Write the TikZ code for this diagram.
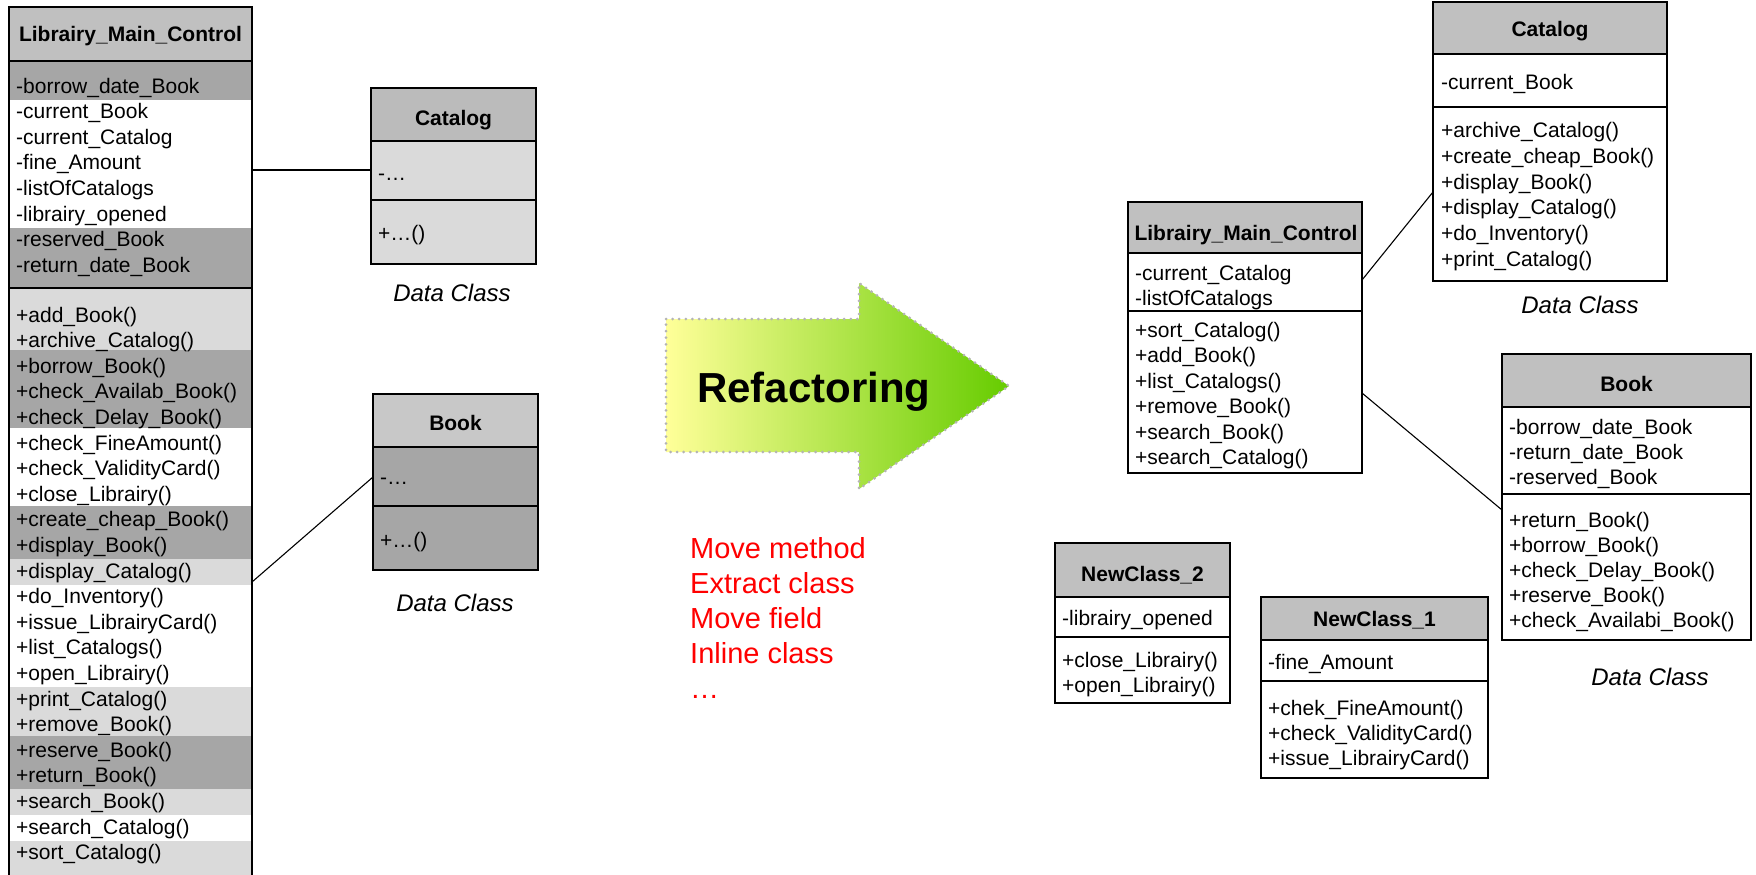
\documentclass[tikz,border=0pt]{standalone}
\usepackage{fontspec}
\setmainfont{Liberation Sans}
\usetikzlibrary{calc}

\definecolor{hdrgray}{HTML}{C0C0C0}
\definecolor{catgray}{HTML}{BBBBBB}
\definecolor{bookgray}{HTML}{C8C8C8}
\definecolor{darkrow}{HTML}{A6A6A6}
\definecolor{lightrow}{HTML}{DADADA}
\definecolor{arrowstart}{HTML}{FFFF99}
\definecolor{arrowend}{HTML}{66CC00}
\definecolor{dotgray}{HTML}{B4B4B4}
\definecolor{listred}{HTML}{FF0000}

% one text row per list item, baselines spaced by #4
\newcommand\cellrows[5]{%
  \foreach \rowtext [count=\k from 0] in {#5}
    \node[txt] (#1\k) at (#2,{#3+\k*#4}) {\rowtext};%
}

\begin{document}
\begin{tikzpicture}[x=1pt,y=-1pt,
  txt/.style={anchor=base west,inner sep=0pt,font=\fontsize{21}{25}\selectfont},
  ttl/.style={anchor=base,inner sep=0pt,font=\fontsize{21}{25}\selectfont\bfseries},
  dataclass/.style={inner sep=0pt,font=\fontsize{24}{28}\selectfont\itshape},
  frame/.style={draw,line width=2pt,rectangle,inner sep=0pt,outer sep=0pt,anchor=north west},
  sepline/.style={line width=2pt},
  link/.style={line width=1.1pt},
  redtxt/.style={anchor=base west,inner sep=0pt,text=listred,font=\fontsize{29}{35}\selectfont}]

\useasboundingbox (0,0) rectangle (1756,875);

% ---------------- original class (left) ----------------
\fill[hdrgray] (9,7) rectangle (252,61);
\fill[darkrow] (9,61) rectangle (252,100);
\fill[white] (9,100) rectangle (252,228);
\fill[darkrow] (9,228) rectangle (252,288);
\fill[lightrow] (9,288) rectangle (252,350);
\fill[darkrow] (9,350) rectangle (252,428);
\fill[white] (9,428) rectangle (252,506);
\fill[darkrow] (9,506) rectangle (252,559);
\fill[lightrow] (9,559) rectangle (252,585);
\fill[white] (9,585) rectangle (252,687);
\fill[lightrow] (9,687) rectangle (252,736);
\fill[darkrow] (9,736) rectangle (252,789);
\fill[lightrow] (9,789) rectangle (252,815);
\fill[white] (9,815) rectangle (252,841);
\fill[lightrow] (9,841) rectangle (252,890);
\node[ttl] (lmcLt) at (130.5,42) {Librairy\_Main\_Control};
\cellrows{lmcLa}{16}{93}{25.6}{-borrow\_date\_Book,-current\_Book,-current\_Catalog,-fine\_Amount,-listOfCatalogs,-librairy\_opened,-reserved\_Book,-return\_date\_Book}
\cellrows{lmcLm}{16}{322}{25.6}{+add\_Book(),+archive\_Catalog(),+borrow\_Book(),+check\_Availab\_Book(),+check\_Delay\_Book(),+check\_FineAmount(),+check\_ValidityCard(),+close\_Librairy(),+create\_cheap\_Book(),+display\_Book(),+display\_Catalog(),+do\_Inventory(),+issue\_LibrairyCard(),+list\_Catalogs(),+open\_Librairy(),+print\_Catalog(),+remove\_Book(),+reserve\_Book(),+return\_Book(),+search\_Book(),+search\_Catalog(),+sort\_Catalog()}
\draw[sepline] (9,61) -- (252,61);
\draw[sepline] (9,288) -- (252,288);
\node[frame,minimum width=243pt,minimum height=883pt] (lmcL) at (9,7) {};

% Catalog (left)
\fill[catgray] (371,88) rectangle (536,141);
\fill[lightrow] (371,141) rectangle (536,264);
\node[ttl] (catLt) at (453.5,125) {Catalog};
\node[txt] (catLa) at (378,180) {-…};
\node[txt] (catLm) at (378,240) {+…()};
\draw[sepline] (371,141) -- (536,141);
\draw[sepline] (371,200) -- (536,200);
\node[frame,minimum width=165pt,minimum height=176pt] (catL) at (371,88) {};
\node[dataclass] (catLdc) at (452,293) {Data Class};

% Book (left)
\fill[bookgray] (373,394) rectangle (538,447);
\fill[darkrow] (373,447) rectangle (538,570);
\node[ttl] (bookLt) at (455.5,430) {Book};
\node[txt] (bookLa) at (380,484) {-…};
\node[txt] (bookLm) at (380,547) {+…()};
\draw[sepline] (373,447) -- (538,447);
\draw[sepline] (373,506) -- (538,506);
\node[frame,minimum width=165pt,minimum height=176pt] (bookL) at (373,394) {};
\node[dataclass] (bookLdc) at (455,603) {Data Class};

\draw[link] (lmcL.east |- 0,170) -- (catL.west |- 0,170);
\draw[link] (lmcL.east |- 0,582) -- (bookL.west |- 0,477);

% ---------------- refactoring arrow ----------------
\shade[left color=arrowstart,right color=arrowend]
  (666,319) -- (859,319) -- (859,283) -- (1009,386) -- (859,489) -- (859,452) -- (666,452) -- cycle;
\draw[dotgray,line width=3pt,line cap=round,dash pattern=on 0pt off 6.6pt]
  (666,319) -- (859,319) -- (859,283) -- (1009,386) -- (859,489) -- (859,452) -- (666,452) -- cycle;
\node[anchor=base west,inner sep=0pt,font=\fontsize{42}{48}\selectfont\bfseries] (refac) at (697,402) {Refactoring};

\node[redtxt] (r1) at (690,558) {Move method};
\node[redtxt] (r2) at (690,593) {Extract class};
\node[redtxt] (r3) at (690,628) {Move field};
\node[redtxt] (r4) at (690,663) {Inline class};
\node[redtxt] (r5) at (690,698) {…};

% ---------------- refactored classes (right) ----------------
% Librairy_Main_Control
\fill[hdrgray] (1128,202) rectangle (1362,253);
\fill[white] (1128,253) rectangle (1362,473);
\node[ttl] (lmcRt) at (1246,240) {Librairy\_Main\_Control};
\cellrows{lmcRa}{1135}{280.5}{25}{-current\_Catalog,-listOfCatalogs}
\cellrows{lmcRm}{1135}{337.5}{25.4}{+sort\_Catalog(),+add\_Book(),+list\_Catalogs(),+remove\_Book(),+search\_Book(),+search\_Catalog()}
\draw[sepline] (1128,253) -- (1362,253);
\draw[sepline] (1128,311) -- (1362,311);
\node[frame,minimum width=234pt,minimum height=271pt] (lmcR) at (1128,202) {};

% Catalog
\fill[hdrgray] (1433,2) rectangle (1667,54);
\fill[white] (1433,54) rectangle (1667,281);
\node[ttl] (catRt) at (1550,37) {Catalog};
\cellrows{catRa}{1441}{89.5}{25}{-current\_Book}
\cellrows{catRm}{1441}{137.5}{25.8}{+archive\_Catalog(),+create\_cheap\_Book(),+display\_Book(),+display\_Catalog(),+do\_Inventory(),+print\_Catalog()}
\draw[sepline] (1433,54) -- (1667,54);
\draw[sepline] (1433,107) -- (1667,107);
\node[frame,minimum width=234pt,minimum height=279pt] (catR) at (1433,2) {};
\node[dataclass] (catRdc) at (1580,305) {Data Class};

% Book
\fill[hdrgray] (1502,354) rectangle (1751,407);
\fill[white] (1502,407) rectangle (1751,640);
\node[ttl] (bookRt) at (1626.5,391) {Book};
\cellrows{bookRa}{1509}{434.5}{25}{-borrow\_date\_Book,-return\_date\_Book,-reserved\_Book}
\cellrows{bookRm}{1509}{527.5}{25}{+return\_Book(),+borrow\_Book(),+check\_Delay\_Book(),+reserve\_Book(),+check\_Availabi\_Book()}
\draw[sepline] (1502,407) -- (1751,407);
\draw[sepline] (1502,494) -- (1751,494);
\node[frame,minimum width=249pt,minimum height=286pt] (bookR) at (1502,354) {};
\node[dataclass] (bookRdc) at (1650,677) {Data Class};

% NewClass_2
\fill[hdrgray] (1055,543) rectangle (1230,597);
\fill[white] (1055,597) rectangle (1230,703);
\node[ttl] (nc2t) at (1142.5,581) {NewClass\_2};
\cellrows{nc2a}{1062}{625.5}{25}{-librairy\_opened}
\cellrows{nc2m}{1062}{667.5}{25}{+close\_Librairy(),+open\_Librairy()}
\draw[sepline] (1055,597) -- (1230,597);
\draw[sepline] (1055,637) -- (1230,637);
\node[frame,minimum width=175pt,minimum height=160pt] (nc2) at (1055,543) {};

% NewClass_1
\fill[hdrgray] (1261,597) rectangle (1488,640);
\fill[white] (1261,640) rectangle (1488,778);
\node[ttl] (nc1t) at (1374.5,626) {NewClass\_1};
\cellrows{nc1a}{1268}{669.5}{25}{-fine\_Amount}
\cellrows{nc1m}{1268}{715.5}{25}{+chek\_FineAmount(),+check\_ValidityCard(),+issue\_LibrairyCard()}
\draw[sepline] (1261,640) -- (1488,640);
\draw[sepline] (1261,681) -- (1488,681);
\node[frame,minimum width=227pt,minimum height=181pt] (nc1) at (1261,597) {};

\draw[link] (lmcR.east |- 0,280) -- (catR.west |- 0,192);
\draw[link] (lmcR.east |- 0,393) -- (bookR.west |- 0,510);

\end{tikzpicture}
\end{document}
